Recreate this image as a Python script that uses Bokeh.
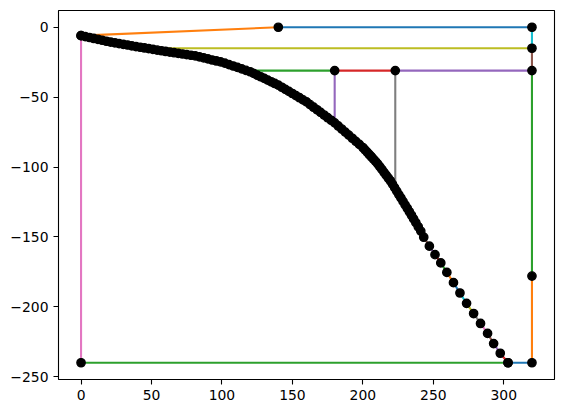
from bokeh.plotting import figure
from bokeh.models import Range1d, FixedTicker
from bokeh.embed import file_html
from bokeh.resources import INLINE

# ---- data ----
# trajectory points (top to bottom)
curve_x = [0, 3, 6, 9, 12, 15, 18, 21, 24, 27, 30, 33, 36, 39, 42, 45, 48, 51, 54, 57, 60,
           63, 66, 69, 72, 75, 78, 81, 84, 87, 90, 93, 96, 99, 102, 105, 108, 111, 114, 117, 120,
           122.5, 125, 127.5, 130, 132.5, 135, 137.5, 140, 142.5, 145, 147.5, 150, 152.5, 155,
           157.5, 160, 162.5, 165, 167.5, 170, 172.5, 175, 177.5, 180, 182.5, 185, 187.5, 190,
           192.5, 195, 197.5, 200,
           201.5, 203, 204.5, 206, 207.5, 209, 210.5, 212, 213.5, 215, 216.5, 218, 219.5, 221,
           222.5, 224, 225.5, 227, 228.5, 230, 231.5, 233, 234.5, 236, 237.6, 239.3, 241.1,
           243.2, 247.2, 251.2, 255.3, 259.6, 264.3, 268.9, 273.6, 278.6, 283.5, 288.5, 292.8,
           297.5, 303]
curve_y = [-6, -6.7, -7.3, -8, -8.6, -9.3, -10, -10.6, -11.1, -11.7, -12.2, -12.7, -13.3, -13.8,
           -14.3, -14.8, -15.3, -15.8, -16.3, -16.8, -17.3,
           -17.8, -18.2, -18.7, -19.1, -19.6, -20, -20.5, -21.2, -21.9, -22.6, -23.4, -24.1,
           -24.8, -25.7, -26.7, -27.7, -28.7, -29.8, -30.8, -31.8,
           -33, -34.2, -35.4, -36.6, -37.8, -39, -40.2, -41.4, -42.9, -44.4, -45.9, -47.4,
           -48.9, -50.4, -51.9, -53.4, -55.3, -57.2, -59, -60.9, -62.8, -64.7, -66.5, -68.4,
           -70.6, -72.8, -75, -77.2, -79.4, -81.6, -83.8, -86,
           -87.7, -89.3, -91, -92.6, -94.3, -95.9, -97.7, -99.7, -101.7, -103.8, -105.8,
           -107.8, -109.8, -112.2, -114.7, -117.2, -119.7, -122.1, -124.6, -127.1, -129.5,
           -132, -134.5, -137.1, -139.8, -142.7, -145.8,
           -150.2, -156.6, -162.7, -168.6, -175.4, -182.7, -190.1, -197.5, -204.8, -211.9,
           -219, -226.3, -233.2, -240]

# graph nodes (drawn with dots)
node_x = [0, 140, 320, 320, 320, 180, 223, 320, 320, 0, 303]
node_y = [-6, 0, 0, -15, -31, -31, -31, -178, -240, -240, -240]

# edges between nodes / curve points
edge_x0 = [0, 140, 320, 46, 320, 118, 180, 223, 180, 223, 320, 320, 320, 0, 0]
edge_y0 = [-6, 0, 0, -15, -15, -31, -31, -31, -31, -31, -31, -178, -240, -240, -6]
edge_x1 = [140, 320, 320, 320, 320, 180, 223, 320, 180, 223, 320, 320, 303, 303, 0]
edge_y1 = [0, 0, -15, -15, -31, -31, -31, -31, -68, -116, -178, -240, -240, -240, -240]

x_ticks = [0, 50, 100, 150, 200, 250, 300]
y_ticks = [0, -50, -100, -150, -200, -250]
x_tick_labels = ["0", "50", "100", "150", "200", "250", "300"]
y_tick_labels = ["0", "\u221250", "\u2212100", "\u2212150", "\u2212200", "\u2212250"]

# ---- style ----
tab10 = ["#1f77b4", "#ff7f0e", "#2ca02c", "#d62728", "#9467bd",
         "#8c564b", "#e377c2", "#7f7f7f", "#bcbd22", "#17becf"]
edge_colors = [tab10[i] for i in [1, 0, 9, 8, 5, 2, 3, 4, 4, 7, 2, 1, 0, 2, 6]]

p = figure(width=563, height=413, output_backend="svg", toolbar_location=None,
           x_range=Range1d(-16, 336), y_range=Range1d(-252, 12),
           min_border_left=58, min_border_right=9, min_border_top=10, min_border_bottom=34)
p.background_fill_color = "white"
p.border_fill_color = "white"
p.outline_line_color = "black"
p.outline_line_width = 1.1
p.grid.visible = False

for ax, ticks, labels in ((p.xaxis[0], x_ticks, x_tick_labels), (p.yaxis[0], y_ticks, y_tick_labels)):
    ax.ticker = FixedTicker(ticks=ticks)
    ax.major_label_overrides = {t: l for t, l in zip(ticks, labels)}
    ax.axis_line_color = None
    ax.major_tick_out = 5
    ax.major_tick_in = 0
    ax.minor_tick_line_color = None
    ax.major_tick_line_color = "black"
    ax.major_tick_line_width = 1.1
    ax.major_label_text_font = "DejaVu Sans"
    ax.major_label_text_font_size = "13.9px"
    ax.major_label_text_color = "black"
    ax.major_label_standoff = 5

# graph edges
p.segment(x0=edge_x0, y0=edge_y0, x1=edge_x1, y1=edge_y1, color=edge_colors, line_width=2.1)

# curve segments, colors cycling upward from the bottom
n = len(curve_x)
seg_colors = [tab10[(3 + (n - 2 - i)) % 10] for i in range(n - 1)]
p.segment(x0=curve_x[:-1], y0=curve_y[:-1], x1=curve_x[1:], y1=curve_y[1:],
          color=seg_colors, line_width=2.1)

# dots
p.scatter(curve_x, curve_y, size=8.3, fill_color="black", line_color="black", line_width=1.4)
p.scatter(node_x, node_y, size=8.3, fill_color="black", line_color="black", line_width=1.4)

open("out.html", "w").write(file_html(p, INLINE))
